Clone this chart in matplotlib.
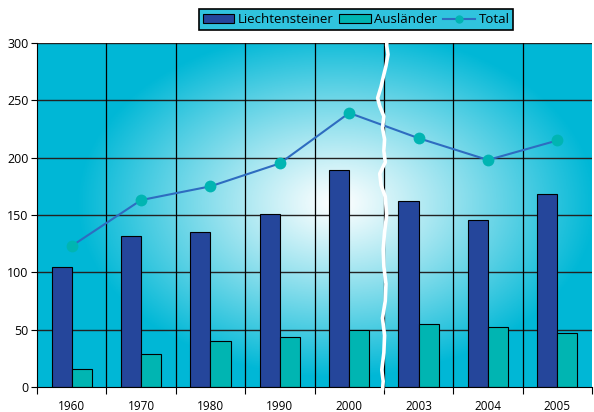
import numpy as np
import matplotlib.pyplot as plt
from matplotlib.patches import Patch
from matplotlib.lines import Line2D

plt.rcParams['font.family'] = ['Open Sans', 'DejaVu Sans']

years = ['1960', '1970', '1980', '1990', '2000', '2003', '2004', '2005']
liechtensteiner = [105, 132, 135, 151, 189, 162, 146, 168]
auslaender = [16, 29, 40, 44, 50, 55, 52, 47]
total = [123, 163, 175, 195, 239, 217, 198, 215]

# wobble of the white break line (x offsets in category units, top to bottom)
break_y = [307, 298, 290, 280, 270, 262, 252, 245, 236, 226, 216, 206, 196, 186, 176, 166, 150, 135, 120, 105, 90, 75, 60, 45, 30, 15, 5, -3]
break_dx = [0.09, 0.08, 0.10, 0.07, 0.03, 0.0, -0.05, -0.02, 0.04, 0.02, 0.05, 0.04, 0.06, -0.02, 0.0, 0.06, 0.08, 0.05, 0.03, 0.04, 0.07, 0.06, 0.02, 0.05, 0.04, 0.01, 0.03, 0.02]

dark = '#25469b'
teal = '#00b5b2'
line_c = '#2e6cc0'

fig = plt.figure(figsize=(5.94, 4.12), dpi=100)
ax = fig.add_axes([37 / 594, (412 - 387) / 412, 555 / 594, 344 / 412])

x = np.arange(len(years))
w = 0.29

# radial gradient background
nx, ny = 300, 200
gx, gy = np.meshgrid(np.linspace(0, 555, nx), np.linspace(0, 344, ny))
cx, cy = 300, 160
r = np.sqrt(((gx - cx) / 260) ** 2 + ((gy - cy) / 175) ** 2)
t = np.clip(r, 0, 1) ** 1.1
c0 = np.array([1.0, 1.0, 1.0])
c1 = np.array([0.0, 0.72, 0.84])
img = c0[None, None, :] * (1 - t[..., None]) + c1[None, None, :] * t[..., None]
ax.imshow(img, extent=[-0.5, 7.5, 0, 300], origin='upper', aspect='auto', zorder=0)

ax.set_xlim(-0.5, 7.5)
ax.set_ylim(0, 300)

for yv in range(50, 301, 50):
    ax.axhline(yv, color='#222222', lw=1.0, zorder=1)
for xv in np.arange(0.5, 7.5, 1):
    ax.axvline(xv, color='black', lw=0.9, zorder=1)

ax.bar(x - w / 2, liechtensteiner, w, color=dark, edgecolor='black', lw=0.8, zorder=2)
ax.bar(x + w / 2, auslaender, w, color=teal, edgecolor='black', lw=0.8, zorder=2)
ax.plot(x, total, color=line_c, lw=1.5, zorder=3)
ax.plot(x, total, 'o', color=teal, ms=8.5, mec='none', zorder=4)

bx = [4.5 + d - 0.04 for d in break_dx]
ax.plot(bx, break_y, color='white', lw=2.6, zorder=5, clip_on=False, solid_capstyle='butt')

ax.set_yticks(range(0, 301, 50))
ax.set_xticks(np.arange(-0.5, 8, 1))
ax.set_xticklabels([])
ax.set_xticks(x, minor=True)
ax.set_xticklabels(years, minor=True)
ax.tick_params(axis='x', which='minor', length=0, pad=9, labelsize=8.5)
ax.tick_params(axis='x', which='major', length=5, color='black', direction='out')
ax.tick_params(axis='y', length=4, color='black', labelsize=9, pad=2)
for s in ['top', 'right']:
    ax.spines[s].set_visible(False)
ax.spines['left'].set_color('black')
ax.spines['bottom'].set_color('black')

handles = [Patch(facecolor=dark, edgecolor='black', lw=0.8),
           Patch(facecolor=teal, edgecolor='black', lw=0.8),
           Line2D([], [], color=line_c, lw=1.5, marker='o', ms=6, mfc=teal, mec='none')]
leg = fig.legend(handles, ['Liechtensteiner', 'Ausländer', 'Total'], ncol=3,
                 loc='center', bbox_to_anchor=(356 / 594, 1 - 19.5 / 412),
                 frameon=True, fancybox=False, fontsize=9.5, handlelength=2.4,
                 handleheight=0.6, handletextpad=0.25, columnspacing=0.45,
                 borderpad=0.3, borderaxespad=0)
leg.get_frame().set_facecolor('#30c3de')
leg.get_frame().set_edgecolor('black')
leg.get_frame().set_linewidth(1.2)
leg.get_frame().set_alpha(1)

fig.savefig('out.png', dpi=100)
